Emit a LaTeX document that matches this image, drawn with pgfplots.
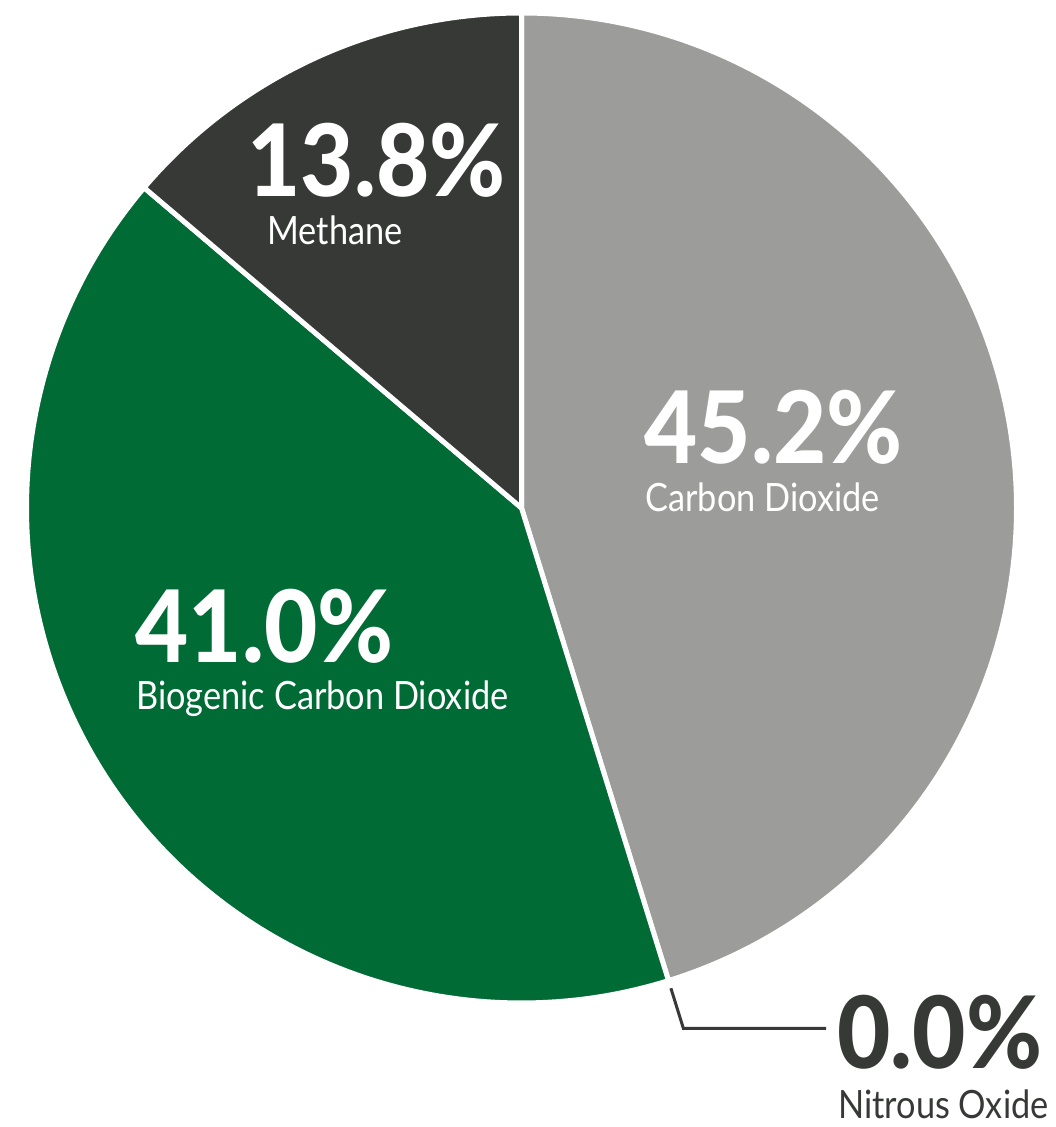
\documentclass[border=0pt]{standalone}
\usepackage{pgfplots}
\pgfplotsset{compat=1.18}
\usepackage{pgfplotstable}
\usepackage{fontspec}
\setmainfont{Lato}
\newfontfamily\labelfont{Lato}[FakeStretch=0.88]
\newfontfamily\numfont{Lato Heavy}[FakeStretch=0.92]

\definecolor{co2gray}{HTML}{9C9D9A}
\definecolor{biogreen}{HTML}{006B35}
\definecolor{methdark}{HTML}{363936}

% Share of emissions by gas, in percent, clockwise from twelve o'clock
\pgfplotstableread{
share
45.2
0.0
41.0
13.8
}\gasshares

\pgfplotstablegetelem{0}{share}\of\gasshares \let\shareCO\pgfplotsretval
\pgfplotstablegetelem{1}{share}\of\gasshares \let\shareNO\pgfplotsretval
\pgfplotstablegetelem{2}{share}\of\gasshares \let\shareBio\pgfplotsretval
\pgfplotstablegetelem{3}{share}\of\gasshares \let\shareMe\pgfplotsretval

% slice boundaries (degrees)
\pgfmathsetmacro\angA{90}
\pgfmathsetmacro\angB{\angA-3.6*\shareCO}
\pgfmathsetmacro\angC{\angB-3.6*\shareNO}
\pgfmathsetmacro\angD{\angC-3.6*\shareBio}
\pgfmathsetmacro\angE{\angD-3.6*\shareMe}

% pie centre and radius in axis units
\def\cx{521.5}
\def\cy{619}
\def\rr{495}

\newcommand\bignum{\numfont\fontsize{50}{50}\selectfont}
\newcommand\gasname{\labelfont\fontsize{19.5}{19.5}\selectfont}

\begin{document}
\begin{tikzpicture}
\begin{axis}[
  scale only axis,
  width=527.5pt, height=563.5pt,
  xmin=0, xmax=1055, ymin=0, ymax=1127,
  hide axis, clip=false,
]
\path (rel axis cs:0,0) rectangle (rel axis cs:1,1);

\addplot[fill=co2gray, draw=white, line width=2.5pt, line join=round, no markers,
  domain=\angB:\angA, samples=160, variable=\t]
  ({\cx+\rr*cos(\t)},{\cy+\rr*sin(\t)}) -- (axis cs:\cx,\cy) -- cycle;
\addplot[fill=biogreen, draw=white, line width=2.5pt, line join=round, no markers,
  domain=\angD:\angC, samples=160, variable=\t]
  ({\cx+\rr*cos(\t)},{\cy+\rr*sin(\t)}) -- (axis cs:\cx,\cy) -- cycle;
\addplot[fill=methdark, draw=white, line width=2.5pt, line join=round, no markers,
  domain=\angE:\angD, samples=80, variable=\t]
  ({\cx+\rr*cos(\t)},{\cy+\rr*sin(\t)}) -- (axis cs:\cx,\cy) -- cycle;

% leader to the nitrous oxide share
\draw[methdark, line width=1.5pt]
  (axis cs:{\cx+503*cos(\angB)},{\cy+503*sin(\angB)})
  -- (axis cs:{\cx+545*cos(\angB)},{\cy+545*sin(\angB)})
  -- (axis cs:826,{\cy+545*sin(\angB)});

\tikzset{num/.style={anchor=base west, inner sep=0, text depth=0pt, font=\bignum},
         gas/.style={anchor=base west, inner sep=0, text depth=0pt, font=\gasname}}

\node[num, text=white] at (axis cs:644,663) {45.2\%};
\node[gas, text=white] at (axis cs:645,615) {Carbon Dioxide};

\node[num, text=white] at (axis cs:247,930) {13.8\%};
\node[gas, text=white] at (axis cs:267,882) {Methane};

\node[num, text=white] at (axis cs:135,464) {41.0\%};
\node[gas, text=white] at (axis cs:136,417) {Biogenic Carbon Dioxide};

\node[num, text=methdark] at (axis cs:837,58) {0.0\%};
\node[gas, text=methdark] at (axis cs:838,9) {Nitrous Oxide};
\end{axis}
\end{tikzpicture}
\end{document}
